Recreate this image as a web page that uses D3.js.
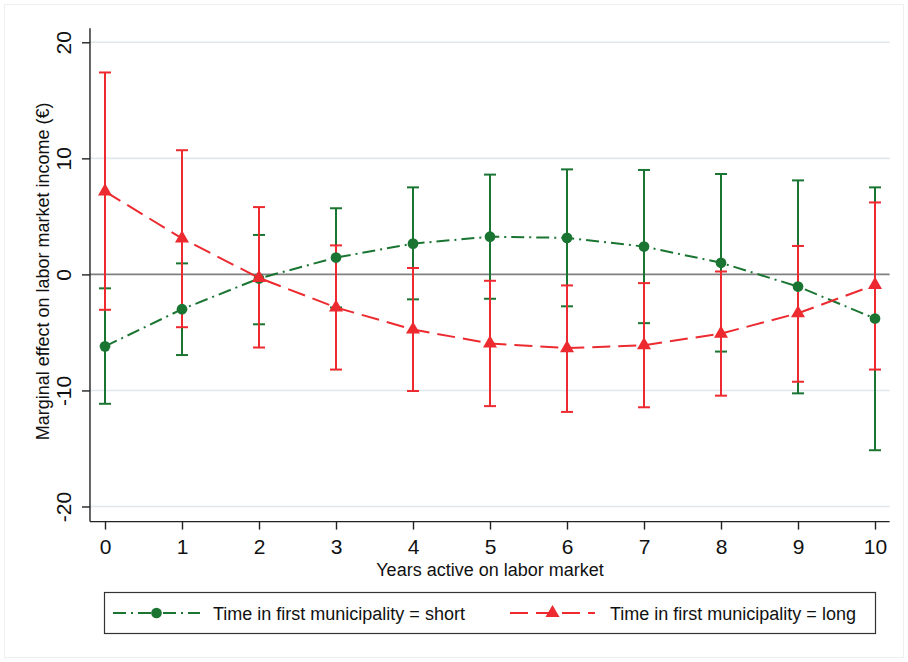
<!DOCTYPE html>
<html>
<head>
<meta charset="utf-8">
<script src="https://cdn.jsdelivr.net/npm/d3@7"></script>
<style>
  body { margin: 0; background: #fff; }
  svg { display: block; font-family: "Liberation Sans", Arial, sans-serif; }
</style>
</head>
<body>
<svg id="chart" width="908" height="662"></svg>
<script>
// years on x axis
const years = [0, 1, 2, 3, 4, 5, 6, 7, 8, 9, 10];

// short time in first municipality
const shortEst = [-6.2, -3.0, -0.35, 1.45, 2.65, 3.25, 3.15, 2.4, 1.0, -1.05, -3.8];
const shortLo = [-11.15, -6.95, -4.3, -2.85, -2.15, -2.1, -2.75, -4.2, -6.65, -10.25, -15.15];
const shortHi = [-1.2, 0.95, 3.4, 5.7, 7.5, 8.6, 9.05, 9.0, 8.65, 8.1, 7.5];

// long time in first municipality
const longEst = [7.15, 3.1, -0.3, -2.85, -4.75, -5.95, -6.35, -6.1, -5.1, -3.35, -0.9];
const longLo = [-3.05, -4.55, -6.3, -8.2, -10.05, -11.35, -11.85, -11.45, -10.45, -9.25, -8.2];
const longHi = [17.4, 10.7, 5.8, 2.5, 0.55, -0.55, -0.95, -0.75, 0.25, 2.45, 6.2];

const yTicks = [-20, -10, 0, 10, 20];

const green = '#1a7532';
const red = '#ec2a2f';

const svg = d3.select('#chart');

// faint outer frame
svg.append('rect')
	.attr('x', 4.5).attr('y', 4.5)
	.attr('width', 899).attr('height', 653)
	.attr('fill', 'none').attr('stroke', '#eef0f0');

const x = d3.scaleLinear().domain([0, 10]).range([105, 875]);
const y = d3.scaleLinear().domain([-20, 20]).range([506.5, 42.3]);

const xLeft = x(-0.195), xRight = x(10.19);
const yTop = y(21.2), yBottom = y(-21.3);

// grid
svg.append('g')
	.selectAll('line')
	.data(yTicks.filter(d => d !== 0))
	.enter()
	.append('line')
	.attr('x1', xLeft).attr('x2', xRight)
	.attr('y1', d => y(d)).attr('y2', d => y(d))
	.attr('stroke', '#dfe8ea')
	.attr('stroke-width', 1.6);

// zero line
svg.append('line')
	.attr('x1', xLeft).attr('x2', xRight)
	.attr('y1', y(0)).attr('y2', y(0))
	.attr('stroke', '#808080')
	.attr('stroke-width', 1.8);

// y axis
const yAxis = d3.axisLeft(y).tickValues(yTicks).tickFormat(d => String(d))
	.tickSize(8).tickSizeOuter(0).tickPadding(0);
const gy = svg.append('g')
	.attr('id', 'y_axis')
	.attr('transform', `translate(${xLeft},0)`)
	.call(yAxis);
gy.select('.domain').remove();
gy.selectAll('.tick line').attr('stroke', '#222').attr('stroke-width', 1.4);
gy.selectAll('.tick text')
	.attr('x', null).attr('dy', null)
	.attr('transform', 'translate(-19,0) rotate(-90)')
	.attr('text-anchor', 'middle')
	.attr('fill', '#111')
	.style('font-size', '21px')
	.style('font-family', '"Liberation Sans", Arial, sans-serif');
svg.append('line')
	.attr('x1', xLeft).attr('x2', xLeft)
	.attr('y1', yTop).attr('y2', yBottom)
	.attr('stroke', '#222').attr('stroke-width', 1.4);

// x axis
const xAxis = d3.axisBottom(x).tickValues(years).tickFormat(d => String(d))
	.tickSize(8).tickSizeOuter(0).tickPadding(10);
const gx = svg.append('g')
	.attr('id', 'x_axis')
	.attr('transform', `translate(0,${yBottom})`)
	.call(xAxis);
gx.select('.domain').remove();
gx.selectAll('.tick line').attr('stroke', '#222').attr('stroke-width', 1.4);
gx.selectAll('.tick text')
	.attr('fill', '#111')
	.style('font-size', '21px')
	.style('font-family', '"Liberation Sans", Arial, sans-serif');
svg.append('line')
	.attr('x1', xLeft).attr('x2', xRight)
	.attr('y1', yBottom).attr('y2', yBottom)
	.attr('stroke', '#222').attr('stroke-width', 1.4);

// axis titles
svg.append('text')
	.attr('x', 490).attr('y', 576)
	.attr('text-anchor', 'middle')
	.style('font-size', '18px')
	.attr('fill', '#111')
	.text('Years active on labor market');

svg.append('text')
	.attr('transform', `translate(49,${y(0) - 3}) rotate(-90)`)
	.attr('text-anchor', 'middle')
	.style('font-size', '18px')
	.attr('fill', '#111')
	.text('Marginal effect on labor market income (€)');

const series = [
	{ est: shortEst, lo: shortLo, hi: shortHi, color: green, dash: '13,5,2,5', marker: 'circle' },
	{ est: longEst, lo: longLo, hi: longHi, color: red, dash: '18,8', marker: 'triangle' }
];

const capW = 12;
const line = d3.line().x((d, i) => x(years[i])).y(d => y(d));

series.forEach(s => {
	const g = svg.append('g');
	// error bars
	const bars = g.selectAll('.bar').data(years).enter().append('g');
	bars.append('line')
		.attr('x1', d => x(d)).attr('x2', d => x(d))
		.attr('y1', (d, i) => y(s.lo[i])).attr('y2', (d, i) => y(s.hi[i]))
		.attr('stroke', s.color).attr('stroke-width', 2);
	bars.append('line')
		.attr('x1', d => x(d) - capW / 2).attr('x2', d => x(d) + capW / 2)
		.attr('y1', (d, i) => y(s.lo[i])).attr('y2', (d, i) => y(s.lo[i]))
		.attr('stroke', s.color).attr('stroke-width', 2);
	bars.append('line')
		.attr('x1', d => x(d) - capW / 2).attr('x2', d => x(d) + capW / 2)
		.attr('y1', (d, i) => y(s.hi[i])).attr('y2', (d, i) => y(s.hi[i]))
		.attr('stroke', s.color).attr('stroke-width', 2);
});

series.forEach(s => {
	const g = svg.append('g');
	g.append('path')
		.datum(s.est)
		.attr('d', line)
		.attr('fill', 'none')
		.attr('stroke', s.color)
		.attr('stroke-width', 2)
		.attr('stroke-dasharray', s.dash);
	const sym = s.marker === 'circle'
		? d3.symbol().type(d3.symbolCircle).size(90)
		: d3.symbol().type(d3.symbolTriangle).size(85);
	g.selectAll('.pt').data(s.est).enter().append('path')
		.attr('transform', (d, i) => `translate(${x(years[i])},${y(d)})`)
		.attr('d', sym)
		.attr('fill', s.color);
});

// legend
const leg = svg.append('g');
leg.append('rect')
	.attr('x', 104.5).attr('y', 592.5)
	.attr('width', 771).attr('height', 41)
	.attr('fill', '#fff').attr('stroke', '#333').attr('stroke-width', 1.2);

const legItems = [
	{ s: series[0], x0: 113, x1: 200, tx: 213, label: 'Time in first municipality = short' },
	{ s: series[1], x0: 510, x1: 595, tx: 610, label: 'Time in first municipality = long' }
];
legItems.forEach(it => {
	const cy = 613;
	leg.append('line')
		.attr('x1', it.x0).attr('x2', it.x1)
		.attr('y1', cy).attr('y2', cy)
		.attr('stroke', it.s.color).attr('stroke-width', 2)
		.attr('stroke-dasharray', it.s.dash);
	const sym = it.s.marker === 'circle'
		? d3.symbol().type(d3.symbolCircle).size(90)
		: d3.symbol().type(d3.symbolTriangle).size(85);
	leg.append('path')
		.attr('transform', `translate(${(it.x0 + it.x1) / 2},${cy})`)
		.attr('d', sym)
		.attr('fill', it.s.color);
	leg.append('text')
		.attr('x', it.tx).attr('y', cy + 6.5)
		.style('font-size', '18px')
		.attr('fill', '#111')
		.text(it.label);
});
</script>
</body>
</html>
